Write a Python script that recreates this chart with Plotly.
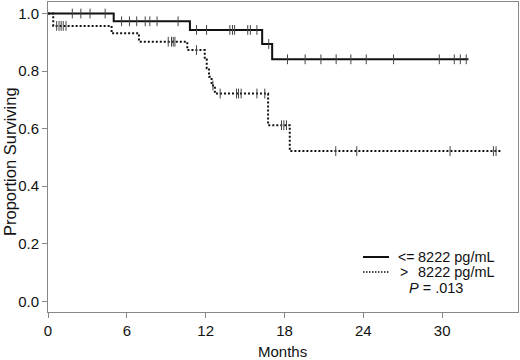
import numpy as np
import plotly.graph_objects as go

# Kaplan-Meier step data (months, proportion surviving)
low_times = [0, 5.0, 10.8, 16.3, 17.06, 32.0]
low_surv = [1.0, 0.973, 0.943, 0.894, 0.841, 0.841]
low_censor = [1.85, 2.5, 3.2, 4.35, 5.6, 6.2, 6.75, 7.4, 7.75, 8.3, 9.9,
              11.3, 12.07, 13.84, 14.04, 14.2, 15.2, 15.4, 15.9, 16.8,
              18.23, 19.57, 20.77, 21.93, 23.05, 24.22, 26.3, 29.78, 30.92, 31.38, 31.83]

high_times = [0, 0.4, 4.84, 6.92, 10.6, 11.93, 12.08, 12.25, 12.45, 12.7, 16.75, 18.4, 34.5]
high_surv = [1.0, 0.957, 0.931, 0.902, 0.873, 0.84, 0.81, 0.78, 0.75, 0.722, 0.612, 0.522, 0.522]
high_censor = [0.66, 0.84, 1.0, 1.16, 1.37, 9.15, 9.4, 9.53, 9.66, 11.3, 12.55,
               13.1, 14.35, 14.5, 14.7, 15.9, 16.5, 17.77, 17.95, 18.15,
               21.9, 23.5, 30.6, 33.9, 34.1]

x_ticks = [0, 6, 12, 18, 24, 30]
y_ticks = [0.0, 0.2, 0.4, 0.6, 0.8, 1.0]
legend_labels = ["<=", ">"]
legend_value = "8222 pg/mL"
p_text = "<i>P</i> = .013"
x_title = "Months"
y_title = "Proportion Surviving"


def surv_at(times, surv, t):
    idx = np.searchsorted(np.array(times), t, side="right") - 1
    return [surv[i] for i in idx]


FONT = "Liberation Sans, Arial, sans-serif"
INK = "#111"
fig = go.Figure()

for times, surv, cens, dash in [(low_times, low_surv, low_censor, "solid"),
                                (high_times, high_surv, high_censor, "2px,2px")]:
    fig.add_trace(go.Scatter(x=times, y=surv, mode="lines", line_shape="hv",
                             line=dict(color=INK, width=2, dash=dash),
                             showlegend=False, hoverinfo="skip"))
    fig.add_trace(go.Scatter(x=cens, y=surv_at(times, surv, cens), mode="markers",
                             marker=dict(symbol="line-ns", size=7,
                                         line=dict(color="#444", width=1)),
                             showlegend=False, hoverinfo="skip"))

# manual legend (paper coordinates derived from pixel layout)
W, H = 470.0, 310.0
def px(x):
    return (x - 48) / W
def py(y):
    return (312 - y) / H

for i, dash in enumerate(["solid", "1.5px,1.5px"]):
    yy = 257 + i * 15
    fig.add_shape(type="line", xref="paper", yref="paper",
                  x0=px(363), x1=px(389), y0=py(yy), y1=py(yy),
                  line=dict(color=INK, width=2 if dash == "solid" else 1.5, dash=dash))
    fig.add_annotation(xref="paper", yref="paper", x=px(396 if i == 0 else 398), y=py(yy),
                       text=legend_labels[i], showarrow=False, xanchor="left",
                       yanchor="middle", font=dict(family=FONT, size=14, color=INK))
    fig.add_annotation(xref="paper", yref="paper", x=px(416), y=py(yy),
                       text=legend_value, showarrow=False, xanchor="left",
                       yanchor="middle", font=dict(family=FONT, size=14.5, color=INK))

fig.add_annotation(xref="paper", yref="paper", x=px(407), y=py(288),
                   text=p_text, showarrow=False, xanchor="left", yanchor="middle",
                   font=dict(family=FONT, size=14.5, color=INK))

# axis titles
fig.add_annotation(xref="paper", yref="paper", x=px(282), y=py(351),
                   text=x_title, showarrow=False, xanchor="center", yanchor="middle",
                   font=dict(family=FONT, size=15, color=INK))
fig.add_annotation(xref="paper", yref="paper", x=px(10), y=py(162),
                   text=y_title, showarrow=False, xanchor="center", yanchor="middle",
                   textangle=-90, font=dict(family=FONT, size=16.5, color=INK))

axis_common = dict(showline=True, linecolor="#888", linewidth=1, mirror=True,
                   ticks="outside", ticklen=5, tickcolor="#888", showgrid=False,
                   zeroline=False, automargin=False,
                   tickfont=dict(family=FONT, size=15, color=INK))

fig.update_layout(
    width=520, height=360,
    margin=dict(l=48, r=2, t=2, b=48),
    plot_bgcolor="white", paper_bgcolor="white",
    xaxis=dict(range=[0, 35.77], tickvals=x_ticks, **axis_common),
    yaxis=dict(range=[-0.037, 1.04], tickvals=y_ticks, tickformat=".1f", **axis_common),
)

fig.write_html("out.html", config={"displayModeBar": False},
               post_script="document.body.style.margin='0px';")
